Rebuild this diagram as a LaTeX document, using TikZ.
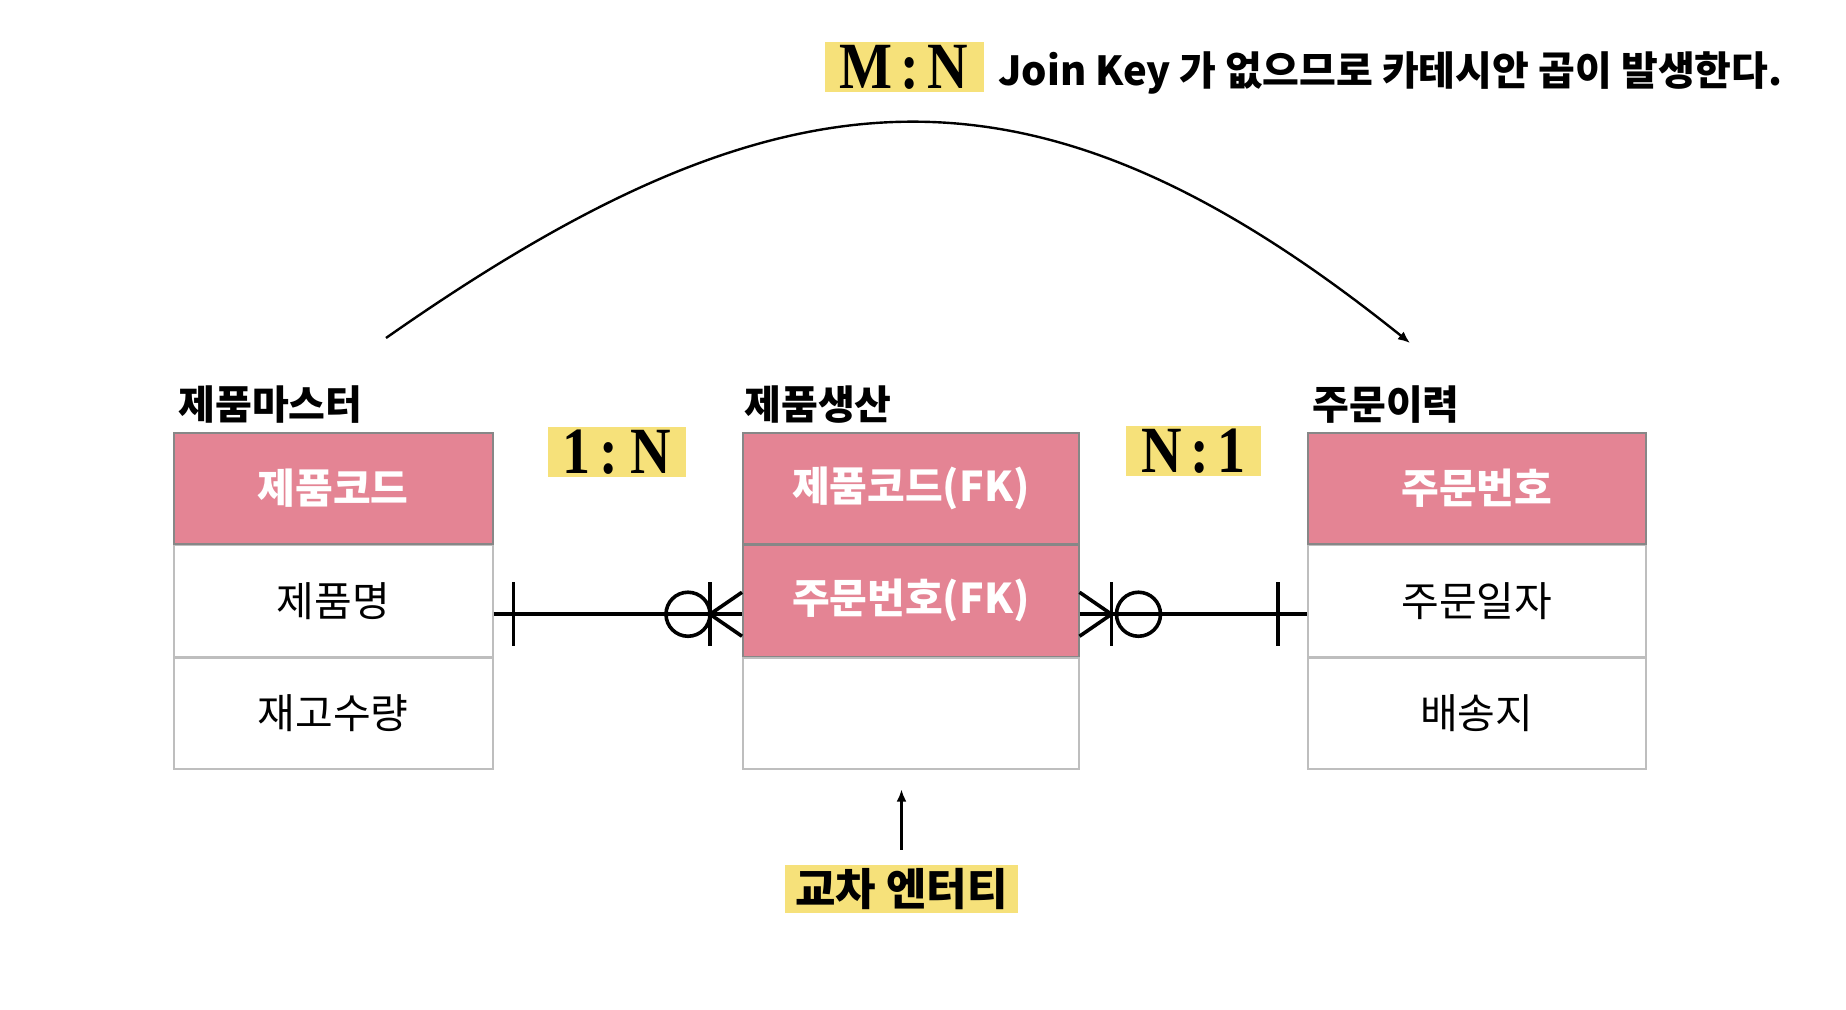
\documentclass[tikz,border=0pt]{standalone}
\usepackage{fontspec}
\setmainfont{Noto Sans CJK KR}
\newfontfamily\ratiofont[FakeStretch=0.85,WordSpace=0.6]{Liberation Serif}
\usetikzlibrary{positioning,arrows.meta}

\definecolor{keypink}{RGB}{228,132,148}
\definecolor{hilite}{RGB}{246,225,122}
\definecolor{rowline}{RGB}{135,135,135}
\definecolor{boxline}{RGB}{190,190,190}

\tikzset{
  keycell/.style={draw=rowline, line width=0.75pt, fill=keypink, text=white,
    font=\fontsize{20.5}{22}\selectfont\bfseries, minimum height=55.5pt, inner sep=0pt},
  attrcell/.style={draw=boxline, line width=0.75pt, fill=white,
    font=\fontsize{20.5}{22}\selectfont, minimum height=55.5pt, inner sep=0pt},
  entity/.style={font=\fontsize{20}{22}\selectfont\bfseries, anchor=base west, inner sep=0pt},
  ratio/.style={fill=hilite, font=\fontsize{33}{36}\selectfont\ratiofont\bfseries,
    minimum height=25pt, inner xsep=7.5pt, inner ysep=0pt},
  link/.style={line width=1.8pt},
  pointer/.style={line width=1.2pt, -{Latex[length=6pt,width=5pt]}},
}

\begin{document}
\begin{tikzpicture}[x=0.5pt, y=-0.5pt]
\useasboundingbox (0,0) rectangle (1846,1010);

% 제품마스터
\node[keycell, minimum width=159.5pt, anchor=north west] (m1) at (173,432) {제품코드};
\node[attrcell, minimum width=159.5pt, below=0pt of m1] (m2) {제품명};
\node[attrcell, minimum width=159.5pt, below=0pt of m2] (m3) {재고수량};
\node[entity] (mt) at ([xshift=2.5pt, yshift=6pt]m1.north west) {제품마스터};

% 제품생산
\node[keycell, minimum width=168pt, anchor=north west] (p1) at (742,432) {제품코드(FK)};
\node[keycell, minimum width=168pt, below=0pt of p1] (p2) {주문번호(FK)};
\node[attrcell, minimum width=168pt, below=0pt of p2] (p3) {};
\node[entity] (pt) at ([xshift=1pt, yshift=6pt]p1.north west) {제품생산};

% 주문이력
\node[keycell, minimum width=169pt, anchor=north west] (o1) at (1307,432) {주문번호};
\node[attrcell, minimum width=169pt, below=0pt of o1] (o2) {주문일자};
\node[attrcell, minimum width=169pt, below=0pt of o2] (o3) {배송지};
\node[entity] (ot) at ([xshift=2.5pt, yshift=6pt]o1.north west) {주문이력};

% cardinalities
\node[ratio] (r1) at (617,452) {1 : N};
\node[ratio] (r2) at (1193.5,451) {N : 1};
\node[ratio] (rmn) at (904,67.5) {M : N};
\node[font=\fontsize{20}{22}\selectfont\bfseries, inner sep=0pt, right=7pt of rmn, yshift=-2.5pt] (note)
  {Join Key 가 없으므로 카테시안 곱이 발생한다.};

% 제품마스터 -- 제품생산
\coordinate (ljoin) at ([yshift=-6.75pt]m2.east);
\coordinate (lfoot) at (ljoin -| p2.west);
\draw[link] (ljoin) -- (lfoot);
\draw[link] ([xshift=10pt]ljoin) ++(0,-32) -- ++(0,64);
\draw[link] ([xshift=-16pt]lfoot) ++(0,-32) -- ++(0,64);
\draw[link] ([xshift=-27pt]lfoot) circle[radius=11pt];
\draw[link] ([yshift=11pt]lfoot) -- ([xshift=-16pt]lfoot) -- ([yshift=-11pt]lfoot);

% 제품생산 -- 주문이력
\coordinate (rjoin) at ([yshift=-6.75pt]p2.east);
\coordinate (rend) at (rjoin -| o2.west);
\draw[link] (rjoin) -- (rend);
\draw[link] ([yshift=11pt]rjoin) -- ([xshift=16pt]rjoin) -- ([yshift=-11pt]rjoin);
\draw[link] ([xshift=16pt]rjoin) ++(0,-32) -- ++(0,64);
\draw[link] ([xshift=29.5pt]rjoin) circle[radius=11pt];
\draw[link] ([xshift=-14.5pt]rend) ++(0,-32) -- ++(0,64);

% M : N
\coordinate (arcfrom) at (386,338);
\coordinate (arcto) at (1410,343);
\draw[pointer] (arcfrom) .. controls (780,62) and (1030,38) .. (arcto);

% 교차 엔터티
\node[fill=hilite, font=\fontsize{22}{24}\selectfont\bfseries, minimum height=24pt,
  inner xsep=5pt, inner ysep=0pt] (x) at (901.5,889) {교차 엔터티};
\path (x.north |- p3.south) coordinate (xbase);
\draw[pointer] ([yshift=7.5pt]x.north) -- ([yshift=-10pt]xbase);
\end{tikzpicture}
\end{document}
